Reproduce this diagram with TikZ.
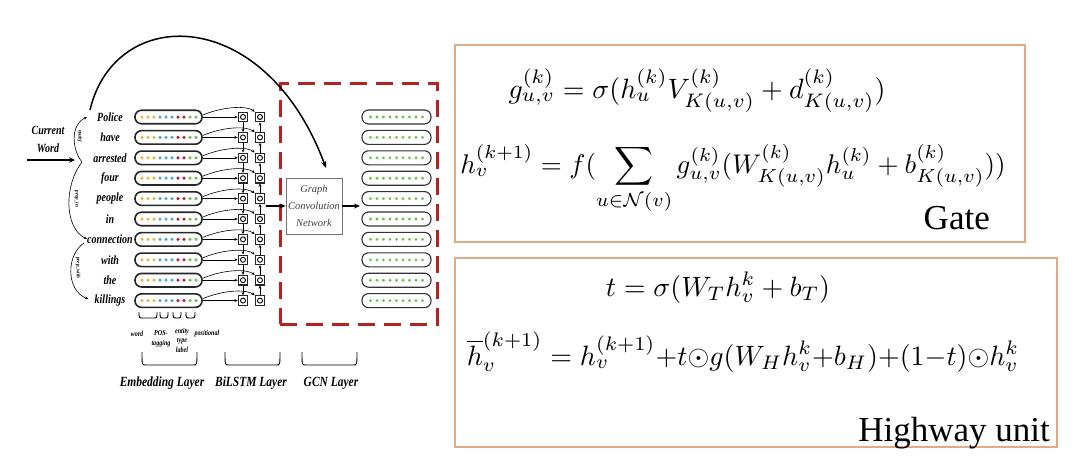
\documentclass[tikz,border=0pt]{standalone}
\usepackage[no-math]{fontspec}
\newfontfamily\tms{Liberation Serif}
\usetikzlibrary{arrows.meta}
\definecolor{dotY}{HTML}{F0B43C}
\definecolor{dotB}{HTML}{4DA6E0}
\definecolor{dotR}{HTML}{B8222E}
\definecolor{dotG}{HTML}{6DBE4A}
\definecolor{frameO}{HTML}{E2AA86}
\definecolor{frameR}{HTML}{B3231F}
\newcommand\ubr[4]{\draw[line width=0.9] (#1,#3) .. controls (#1,#4) .. ({#1+4},#4) -- ({#2-4},#4) .. controls (#2,#4) .. (#2,#3);}
\begin{document}
\begin{tikzpicture}[x=1pt,y=-1pt,
  wordlbl/.style={font=\tms\bfseries\itshape\fontsize{12.5}{18}\selectfont, inner sep=0, align=center, xscale=0.8},
  tinylbl/.style={font=\tms\bfseries\itshape\fontsize{7.6}{9.5}\selectfont, inner sep=0, align=center, xscale=0.8},
  deplbl/.style={font=\tms\bfseries\itshape\fontsize{5.2}{6}\selectfont, inner sep=0},
  layerlbl/.style={font=\tms\bfseries\itshape\fontsize{14}{16}\selectfont, inner sep=0, xscale=0.82},
  embbox/.style={draw=black!85, line width=1.6, rounded corners=6.5, minimum width=67, minimum height=13.5, inner sep=0},
  outbox/.style={draw=black!80, line width=1.1, rounded corners=6.5, minimum width=69, minimum height=14, inner sep=0},
  cell/.style={draw=black!85, line width=1.1, minimum size=9.5, inner sep=0},
  conn/.style={line width=0.6, -{Stealth[length=3.2pt,width=2.8pt]}},
  bigarr/.style={line width=1.6, -{Stealth[length=6pt,width=5pt]}},
  gcnbox/.style={draw=black!55, line width=0.7, minimum width=56, minimum height=56, inner sep=0,
    font=\tms\itshape\fontsize{10.5}{17}\selectfont, align=center, text=black!75},
  eqn/.style={scale=2.8, inner sep=0, anchor=base},
  bigtxt/.style={font=\tms\fontsize{35}{40}\selectfont, inner sep=0, anchor=base east}
]
\useasboundingbox (0,0) rectangle (1080,461);
% right-hand formula boxes
\node[draw=frameO, line width=1.2, minimum width=570, minimum height=197, inner sep=0] (gatebox) at (740,143.5) {};
\node[draw=frameO, line width=1.2, minimum width=602, minimum height=189, inner sep=0] (hwbox) at (756,352.5) {};
\node[eqn] (eq1) at (697,98) {$g^{(k)}_{u,v} = \sigma(h^{(k)}_u V^{(k)}_{K(u,v)} + d^{(k)}_{K(u,v)})$};
\node[eqn, scale=2.7/2.8] (eq2) at (733,173) {$h^{(k+1)}_v = f(\displaystyle\sum_{u\in\mathcal{N}(v)} g^{(k)}_{u,v}(W^{(k)}_{K(u,v)} h^{(k)}_u + b^{(k)}_{K(u,v)}))$};
\node[bigtxt] (gate) at (990,229) {Gate};
\node[eqn] (eq3) at (718,296) {$t = \sigma(W_T h^k_v + b_T)$};
\node[eqn] (eq4) at (743,365) {$\overline{h}^{(k+1)}_v = h^{(k+1)}_v{+}t{\odot}g(W_H h^k_v{+}b_H){+}(1{-}t){\odot}h^k_v$};
\node[bigtxt] (hw) at (1050,441) {Highway unit};
% red dashed GCN frame
\node[draw=frameR, line width=3, dash pattern=on 17pt off 9pt, minimum width=157, minimum height=241, inner sep=0] (gcnframe) at (358.5,203.5) {};
% rows
\foreach \i/\w in {0/Police,1/have,2/arrested,3/four,4/people,5/in,6/connection,7/with,8/the,9/killings}{
  \pgfmathsetmacro\yy{117+20.4*\i}
  \node[wordlbl] (w\i) at (110,\yy) {\w};
  \node[embbox] (e\i) at (168.5,\yy) {};
  \foreach \k/\c in {0/dotY,1/dotY,2/dotY,3/dotB,4/dotB,5/dotB,6/dotR,7/dotR,8/dotG,9/dotG}
    \fill[\c] ({142+6*\k},\yy) circle (1.75);
  \node[cell] (f\i) at (243,\yy) {};
  \node[cell] (b\i) at (260,\yy) {};
  \draw[line width=0.9] (f\i.center) circle (2.5);
  \draw[line width=0.9] (b\i.center) circle (2.5);
  \draw[conn] (e\i.east) -- (f\i.west);
  \draw[conn] ([yshift=2]e\i.east) .. controls +(22,-9) and +(-8,-6) .. (b\i.north west);
  \node[outbox] (o\i) at (396.5,\yy) {};
  \foreach \k in {0,...,8}
    \fill[dotG] ({370.5+6.5*\k},\yy) circle (1.55);
}
\foreach \i [evaluate=\i as \j using int(\i+1)] in {0,...,8}{
  \draw[conn] (f\i.south) -- (f\j.north);
  \draw[conn] (b\j.north) -- (b\i.south);
}
% GCN
\node[gcnbox] (gcn) at (314,206) {Graph\\Convolution\\Network};
\coordinate (lstmout) at (266,206);
\coordinate (outin) at (360,206);
\draw[bigarr] (lstmout) -- (gcn.west);
\draw[bigarr] (gcn.east) -- (outin);
% big arc
\coordinate (arcS) at (90,110);
\coordinate (arcE) at (326,168);
\draw[line width=1.5, -{Stealth[length=7pt,width=5.5pt]}] (arcS) .. controls (115,4) and (265,4) .. (arcE);
% current word
\node[wordlbl] (cw) at (48,139) {Current\\Word};
\coordinate (cwS) at (27,160);
\coordinate (cwE) at (75,160);
\draw[line width=1.8, -{Stealth[length=6pt,width=5.5pt]}] (cwS) -- (cwE);
% dependency arcs
\coordinate (cusp) at (82,162);
\coordinate (d0) at (87,117);
\coordinate (d1) at (87,239);
\coordinate (d2s) at (84,243);
\coordinate (d2) at (88,299);
\draw[conn] (cusp) .. controls (72,150) and (70,125) .. (d0);
\draw[conn] (cusp) .. controls (64,185) and (64,228) .. (d1);
\draw[conn] (d2s) .. controls (66,255) and (66,290) .. (d2);
\node[deplbl, rotate=-90] (l0) at (80,136) {nsubj};
\node[deplbl, rotate=-90] (l1) at (77,199) {prep\_in};
\node[deplbl, rotate=-90] (l2) at (78,268) {prep\_with};
% small braces and labels
\ubr{139}{157}{312}{318}
\ubr{160}{168}{312}{318}
\ubr{173}{181}{312}{318}
\ubr{186}{195}{312}{318}
\node[tinylbl] (t0) at (137,334) {word};
\node[tinylbl] (t1) at (161,339) {POS-\\tagging};
\node[tinylbl] (t2) at (182,340) {entity\\type\\label};
\node[tinylbl] (t3) at (207,334) {positional};
% layer braces and labels
\ubr{142}{197}{352}{365}
\ubr{225}{280}{352}{365}
\ubr{302}{357}{352}{365}
\node[layerlbl] (L0) at (162,383) {Embedding Layer};
\node[layerlbl] (L1) at (251,383) {BiLSTM Layer};
\node[layerlbl] (L2) at (331,383) {GCN Layer};
\end{tikzpicture}
\end{document}
